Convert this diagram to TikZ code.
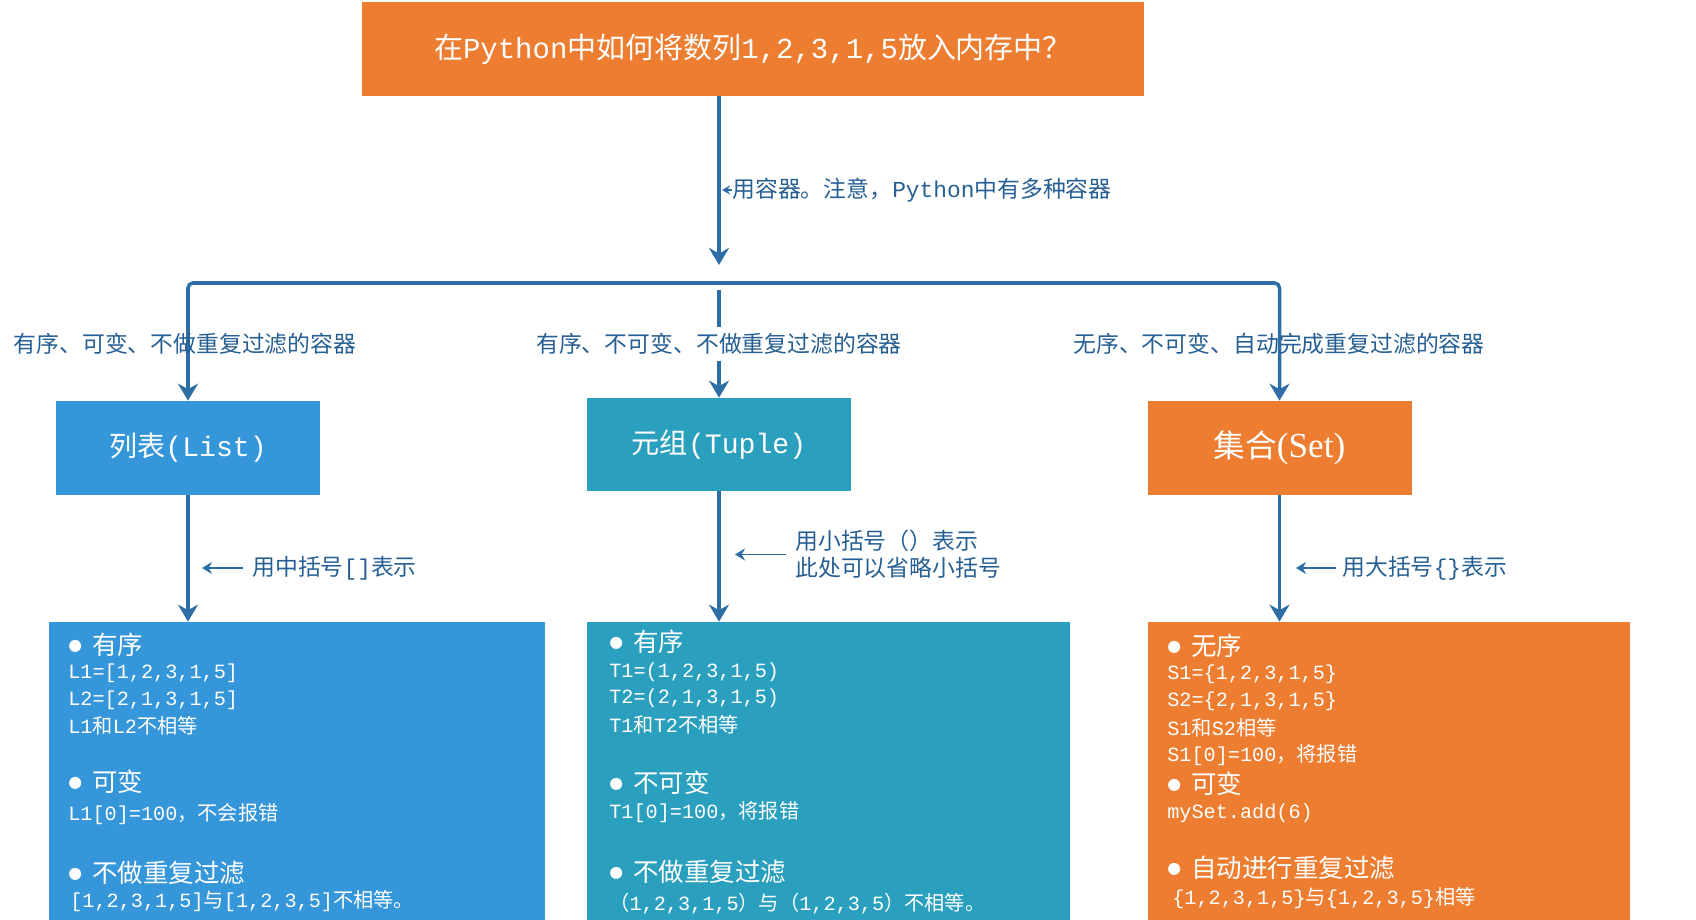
\documentclass[tikz,border=0pt]{standalone}
\usepackage{fontspec}
\setmainfont{Noto Sans CJK SC}
\newfontfamily\monofnt{Liberation Mono}
\newfontfamily\serfnt{Liberation Serif}
\newfontfamily\symfnt{DejaVu Sans}
\usetikzlibrary{arrows.meta,positioning,calc}
\definecolor{cORG}{HTML}{ED7D31}
\definecolor{cLST}{HTML}{3596D9}
\definecolor{cTUP}{HTML}{2AA0BE}
\definecolor{cLN}{HTML}{2E6EA6}
\definecolor{cTXT}{HTML}{265F93}
\newcommand\cd[1]{{\monofnt #1}}
\newcommand\bul{\makebox[0.48cm][l]{\raisebox{2.5pt}{\symfnt\fontsize{9}{9}\selectfont ●}}}

\begin{document}
\begin{tikzpicture}[>=Stealth,
  box/.style={fill=#1, text=white, minimum width=5.28cm, minimum height=1.88cm, font=\fontsize{16}{18}\selectfont},
  pane/.style={fill=#1, minimum width=9.66cm, minimum height=5.96cm},
  conn/.style={draw=cLN, line width=2pt, -{Stealth[length=0.34cm,width=0.4cm]}},
  hint/.style={draw=cLN, line width=1.1pt, -{Stealth[length=0.2cm,width=0.24cm]}},
  lbl/.style={text=cTXT, font=\fontsize{13}{15.3}\selectfont},
  hd/.style={anchor=west, inner sep=0, text=white, font=\fontsize{14.5}{16}\selectfont},
  ln/.style={anchor=west, inner sep=0, text=white, font=\fontsize{11.5}{13}\selectfont}]
\useasboundingbox (0,0) rectangle (33.92,-18.4);

% question and the split
\node[box=cORG, minimum width=15.64cm, font=\fontsize{16.5}{18}\selectfont] (q) at (15.06,-0.98) {在\cd{Python}中如何将数列\cd{1,2,3,1,5}放入内存中？};
\coordinate (top) at (14.38,-5.3);
\coordinate (bar) at (14.38,-5.66);
\draw[conn] (q.south -| top) -- (top);
\node[lbl, anchor=west, inner sep=0] (ql) at (14.64,-3.8) {用容器。注意，\cd{Python}中有多种容器};
\coordinate (qt) at (14.44,-3.8);
\draw[draw=cLN, line width=1pt, -{Stealth[length=0.16cm,width=0.18cm]}] (ql.west) -- (qt);

% three containers
\node[box=cLST] (lst) at (3.76,-8.96) {列表\cd{(List)}};
\node[box=cTUP, minimum height=1.86cm] (tup) at (14.38,-8.89) {元组\cd{(Tuple)}};
\node[box=cORG, font=\fontsize{18}{20}\selectfont] (set) at (25.59,-8.96) {集合{\serfnt\fontsize{20}{20}\selectfont (Set)}};
\draw[conn, rounded corners=0.1cm] (bar) -| (lst.north);
\draw[conn, rounded corners=0.1cm] (bar) -| (set.north);
\draw[conn, shorten <=0.14cm] (bar) -- (tup.north);
\node[lbl] (c1) at (3.7,-6.88) {有序、可变、不做重复过滤的容器};
\node[lbl, fill=white, inner ysep=0.12cm] (c2) at (14.38,-6.88) {有序、不可变、不做重复过滤的容器};
\node[lbl] (c3) at (25.58,-6.88) {无序、不可变、自动完成重复过滤的容器};

% panes
\node[pane=cLST, minimum width=9.92cm] (lstp) at (5.94,-15.42) {};
\node[pane=cTUP] (tupp) at (16.57,-15.42) {};
\node[pane=cORG, minimum width=9.64cm] (setp) at (27.78,-15.42) {};
\draw[conn] (lst.south) -- (lst.south |- lstp.north);
\draw[conn] (tup.south) -- (tup.south |- tupp.north);
\draw[conn] (set.south) -- (set.south |- setp.north);

\node[lbl, anchor=west, inner xsep=0.18cm] (hl) at (4.86,-11.36) {用中括号\cd{[]}表示};
\coordinate (hl0) at (4.04,-11.36);
\draw[hint] (hl.west) -- (hl0);
\node[lbl, anchor=west, align=left, inner xsep=0.18cm] (ht) at (15.72,-11.09) {用小括号（）表示\\此处可以省略小括号};
\coordinate (ht0) at (14.7,-11.09);
\draw[hint] (ht.west) -- (ht0);
\node[lbl, anchor=west, inner xsep=0.12cm] (hs) at (26.72,-11.36) {用大括号\cd{\{\}}表示};
\coordinate (hs0) at (25.92,-11.36);
\draw[hint] (hs.west) -- (hs0);

% list pane
\node[hd] (l1) at (1.36,-12.9) {\bul 有序};
\node[ln] (l2) at (1.36,-13.46) {\cd{L1=[1,2,3,1,5]}};
\node[ln] (l3) at (1.36,-14.0) {\cd{L2=[2,1,3,1,5]}};
\node[ln] (l4) at (1.36,-14.52) {\cd{L1}和\cd{L2}不相等};
\node[hd] (l5) at (1.36,-15.64) {\bul 可变};
\node[ln] (l6) at (1.36,-16.28) {\cd{L1[0]=100}，不会报错};
\node[hd] (l7) at (1.36,-17.46) {\bul 不做重复过滤};
\node[ln] (l8) at (1.4,-18.02) {\cd{[1,2,3,1,5]}与\cd{[1,2,3,5]}不相等。};

% tuple pane
\node[hd] (t1) at (12.18,-12.84) {\bul 有序};
\node[ln] (t2) at (12.18,-13.44) {\cd{T1=(1,2,3,1,5)}};
\node[ln] (t3) at (12.18,-13.96) {\cd{T2=(2,1,3,1,5)}};
\node[ln] (t4) at (12.18,-14.5) {\cd{T1}和\cd{T2}不相等};
\node[hd] (t5) at (12.18,-15.66) {\bul 不可变};
\node[ln] (t6) at (12.18,-16.24) {\cd{T1[0]=100}，将报错};
\node[hd] (t7) at (12.18,-17.44) {\bul 不做重复过滤};
\node[ln] (t8) at (12.18,-18.08) {（\cd{1,2,3,1,5}）与（\cd{1,2,3,5}）不相等。};

% set pane
\node[hd] (s1) at (23.34,-12.92) {\bul 无序};
\node[ln] (s2) at (23.34,-13.48) {\cd{S1=\{1,2,3,1,5\}}};
\node[ln] (s3) at (23.34,-14.02) {\cd{S2=\{2,1,3,1,5\}}};
\node[ln] (s4) at (23.34,-14.56) {\cd{S1}和\cd{S2}相等};
\node[ln] (s5) at (23.34,-15.1) {\cd{S1[0]=100}，将报错};
\node[hd] (s6) at (23.34,-15.68) {\bul 可变};
\node[ln] (s7) at (23.34,-16.26) {\cd{mySet.add(6)}};
\node[hd] (s8) at (23.34,-17.36) {\bul 自动进行重复过滤};
\node[ln] (s9) at (23.44,-17.96) {\cd{\{1,2,3,1,5\}}与\cd{\{1,2,3,5\}}相等};
\end{tikzpicture}
\end{document}
